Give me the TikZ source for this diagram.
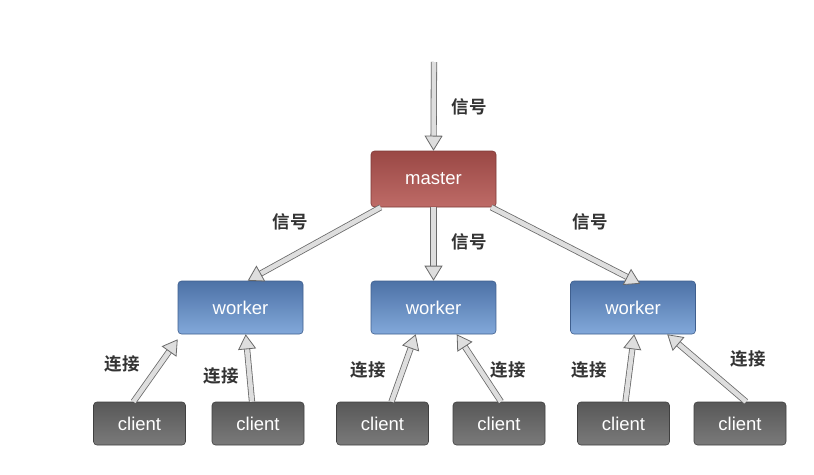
\documentclass[tikz,border=0pt]{standalone}
\usepackage{fontspec}
\setmainfont{Liberation Sans}
\newfontfamily\cjk{Noto Sans CJK SC}[BoldFont={Noto Sans CJK SC Bold}]
\usetikzlibrary{arrows.meta,shadings}
\definecolor{arrowdark}{HTML}{6A6A6A}
\definecolor{arrowfill}{HTML}{DEDEDE}
\definecolor{mtop}{HTML}{9A4845}
\definecolor{mbot}{HTML}{BE6B67}
\definecolor{mborder}{HTML}{7E3A38}
\definecolor{wtop}{HTML}{4D72A6}
\definecolor{wbot}{HTML}{82A8DA}
\definecolor{wborder}{HTML}{3F5F8E}
\definecolor{ctop}{HTML}{585858}
\definecolor{cbot}{HTML}{7A7A7A}
\definecolor{cborder}{HTML}{404040}
\begin{document}
\begin{tikzpicture}[x=1pt,y=-1pt,
  box/.style={rounded corners=3.5pt, inner sep=0pt, text=white, font=\fontsize{18.5}{22}\selectfont},
  masterbox/.style={box, minimum width=125pt, minimum height=56pt, top color=mtop, bottom color=mbot, draw=mborder, line width=0.6pt},
  workerbox/.style={box, minimum width=125pt, minimum height=53pt, top color=wtop, bottom color=wbot, draw=wborder, line width=0.6pt},
  clientbox/.style={box, minimum width=92pt, minimum height=43pt, top color=ctop, bottom color=cbot, draw=cborder, line width=0.6pt},
  bigarrow/.style={draw=arrowdark, line width=0.8pt, double=arrowfill, double distance=4.6pt,
     -{Triangle[length=15pt,width=18pt,fill=arrowfill,line width=0.8pt]}},
  lbl/.style={font=\cjk\bfseries\fontsize{17.5}{20}\selectfont, text=black!80, inner sep=0pt}
]
\useasboundingbox (0,0) rectangle (814,474);
\fill[white] (0,0) rectangle (814,474);

\node[masterbox] (m) at (433.5,179) {master};
\node[workerbox] (w1) at (240.5,307.5) {worker};
\node[workerbox] (w2) at (433.5,307.5) {worker};
\node[workerbox] (w3) at (633,307.5) {worker};

\node[clientbox] (c1) at (139.5,423.5) {client};
\node[clientbox] (c2) at (258,423.5) {client};
\node[clientbox] (c3) at (382.5,423.5) {client};
\node[clientbox] (c4) at (499,423.5) {client};
\node[clientbox] (c5) at (623.5,423.5) {client};
\node[clientbox] (c6) at (740,423.5) {client};

\coordinate (in) at (434,62);

\draw[bigarrow] (in) -- (m.north);
\draw[bigarrow] ([xshift=10pt]m.south west) -- ([xshift=70pt]w1.north west);
\draw[bigarrow] (m.south) -- (w2.north);
\draw[bigarrow] ([xshift=-5pt]m.south east) -- ([xshift=70pt,yshift=-3pt]w3.north west);

\draw[bigarrow] ([xshift=-6pt]c1.north) -- ([yshift=-5pt]w1.south west);
\draw[bigarrow] ([xshift=-6pt]c2.north) -- ([xshift=68pt]w1.south west);
\draw[bigarrow] ([xshift=9pt]c3.north) -- ([xshift=45pt]w2.south west);
\draw[bigarrow] ([xshift=2pt]c4.north) -- ([xshift=86pt]w2.south west);
\draw[bigarrow] ([xshift=2pt]c5.north) -- ([xshift=64pt]w3.south west);
\draw[bigarrow] ([xshift=6pt]c6.north) -- ([xshift=97pt]w3.south west);

\node[lbl] (s0) at (469,107) {信号};
\node[lbl] (s1) at (290,222) {信号};
\node[lbl] (s2) at (469,242) {信号};
\node[lbl] (s3) at (590,222) {信号};

\node[lbl] (l1) at (122,364) {连接};
\node[lbl] (l2) at (221,376) {连接};
\node[lbl] (l3) at (368,370) {连接};
\node[lbl] (l4) at (508,370) {连接};
\node[lbl] (l5) at (589,370) {连接};
\node[lbl] (l6) at (748,359) {连接};
\end{tikzpicture}
\end{document}
